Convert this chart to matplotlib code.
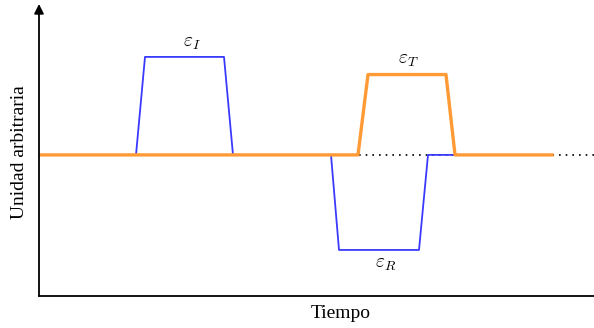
import matplotlib
matplotlib.use("Agg")
import matplotlib.pyplot as plt

plt.rcParams['font.family'] = ['Liberation Serif', 'DejaVu Serif']
plt.rcParams['mathtext.fontset'] = 'cm'

# Data (time in arbitrary units, signal in arbitrary units)
t_incident = [0, 9.7, 10.6, 18.5, 19.4, 29.2, 30.0, 38.0, 38.9, 41.5]
eps_incident = [0, 0, 1.0, 1.0, 0, 0, -0.97, -0.97, 0, 0]
t_trans = [0, 31.9, 32.9, 40.7, 41.6, 51.3]
eps_trans = [0, 0, 0.82, 0.82, 0, 0]
t_ref = [0, 55.5]
ref_line = [0, 0]

labels = [r'$\varepsilon_I$', r'$\varepsilon_T$', r'$\varepsilon_R$']
label_x = [15.3, 36.9, 34.7]
label_y = [1.14, 0.96, -1.12]

fig = plt.figure(figsize=(5.94, 3.28), dpi=100)
ax = fig.add_axes([39/594, 32/328, 555/594, 292/328])

ax.plot(t_ref, ref_line, color='black', linestyle=(0, (1, 3)), lw=1.2, zorder=1)
ax.plot(t_incident, eps_incident, color='#3a3aff', lw=1.3, zorder=2)
ax.plot(t_trans, eps_trans, color='#ff9a35', lw=2.4, zorder=3)

for lab, x, y in zip(labels, label_x, label_y):
    ax.text(x, y, lab, ha='center', va='center', fontsize=14)

ax.set_xlim(0, 55.5)
ax.set_ylim(-1.44, 1.54)
ax.set_xticks([])
ax.set_yticks([])
for s in ['top', 'right', 'left']:
    ax.spines[s].set_visible(False)
ax.spines['bottom'].set_linewidth(1.3)

ax.annotate('', xy=(0, 1.0), xycoords='axes fraction', xytext=(0, 0),
            textcoords='axes fraction',
            arrowprops=dict(arrowstyle='-|>', color='black', lw=1.3,
                            mutation_scale=14, shrinkA=0, shrinkB=0))

ax.set_xlabel('Tiempo', fontsize=14)
ax.set_ylabel('Unidad arbitraria', fontsize=14)
ax.xaxis.set_label_coords((341 - 39) / 555, -9 / 292)
ax.yaxis.set_label_coords(-11 / 555, 0.493)

fig.savefig('out.png', dpi=100)
